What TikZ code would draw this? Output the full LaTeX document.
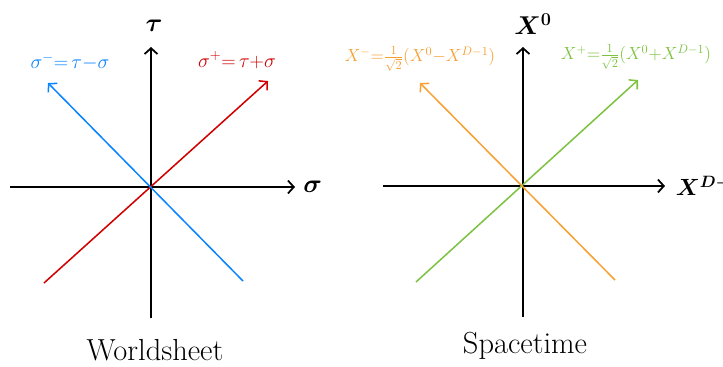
\documentclass[tikz,border=0pt]{standalone}
\usepackage{fix-cm}
\usepackage{tikz}
\usetikzlibrary{positioning,arrows.meta}

\begin{document}
\begin{tikzpicture}[x=0.03cm,y=-0.03cm]
  % Définition des couleurs
  \definecolor{bleucone}{RGB}{10,132,255}
  \definecolor{rougecone}{RGB}{208,0,0}
  \definecolor{orangecone}{RGB}{247,160,52}
  \definecolor{vertcone}{RGB}{125,194,66}

  \tikzset{
    axe/.style={line width=1.5pt, -{Straight Barb[length=5pt,width=11pt,line width=1.5pt]}},
    cone/.style={line width=1.3pt, -{Straight Barb[length=5pt,width=11pt,line width=1.3pt]}},
    etiq/.style={font=\fontsize{17}{20}\selectfont, inner sep=1pt},
    petite/.style={font=\fontsize{15}{18}\selectfont, inner sep=1pt},
    grand/.style={font=\fontsize{22}{26}\selectfont\boldmath, inner sep=1pt},
  }

  \useasboundingbox (0,0) rectangle (723,367);

  % --- Feuille d'univers (à gauche) ---
  \coordinate (wO) at (151,187);
  \coordinate (wgauche) at (10,187);
  \coordinate (wdroite) at (295,187);
  \coordinate (wbas) at (151,318);
  \coordinate (whaut) at (151,47);
  \draw[axe] (wgauche) -- (wdroite);
  \draw[axe] (wbas) -- (whaut);
  \node[grand, right=6pt of wdroite] (sigma) {$\sigma$};
  \node[grand] (tau) at (154,26) {$\tau$};

  % Flèche rouge : sigma^+
  \coordinate (rbas) at (44,283);
  \coordinate (rhaut) at (268,81);
  \draw[cone, color=rougecone] (rbas) -- (rhaut);
  \node[etiq, color=rougecone] (splus) at (237,60) {$\sigma^+{=}\,\tau{+}\sigma$};

  % Flèche bleue : sigma^-
  \coordinate (bbas) at (243,281);
  \coordinate (bhaut) at (48,83);
  \draw[cone, color=bleucone] (bbas) -- (bhaut);
  \node[etiq, color=bleucone] (smoins) at (70,62) {$\sigma^-{=}\,\tau{-}\sigma$};

  \node[font=\fontsize{26}{30}\selectfont] (ws) at (155,350) {Worldsheet};

  % --- Espace-temps (à droite) ---
  \coordinate (sO) at (523,186);
  \coordinate (sgauche) at (383,186);
  \coordinate (sdroite) at (665,186);
  \coordinate (sbas) at (523,317);
  \coordinate (shaut) at (523,47);
  \draw[axe] (sgauche) -- (sdroite);
  \draw[axe] (sbas) -- (shaut);
  \node[font=\fontsize{20}{24}\selectfont\boldmath, inner sep=1pt, right=8pt of sdroite] (xd) {$X^{D-1}$};
  \node[grand] (xzero) at (533,24) {$X^0$};

  % Flèche verte : X^+
  \coordinate (vbas) at (416,282);
  \coordinate (vhaut) at (638,80);
  \draw[cone, color=vertcone] (vbas) -- (vhaut);
  \node[petite, color=vertcone] (xplus) at (636,57) {$X^+{=}\frac{1}{\sqrt2}(X^0{+}X^{D-1})$};

  % Flèche orange : X^-
  \coordinate (obas) at (615,280);
  \coordinate (ohaut) at (420,83);
  \draw[cone, color=orangecone] (obas) -- (ohaut);
  \node[petite, color=orangecone] (xmoins) at (420,59) {$X^-{=}\frac{1}{\sqrt2}(X^0{-}X^{D-1})$};

  \node[font=\fontsize{26}{30}\selectfont] (st) at (525,346) {Spacetime};
\end{tikzpicture}
\end{document}
